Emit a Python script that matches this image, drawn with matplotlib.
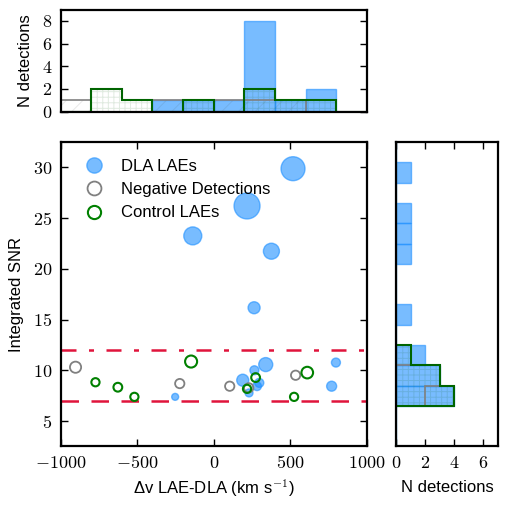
import matplotlib
matplotlib.use('Agg')
import matplotlib.pyplot as plt
import numpy as np
from matplotlib.lines import Line2D
from matplotlib.ticker import FuncFormatter

plt.rcParams['font.family'] = ['Liberation Sans', 'DejaVu Sans']
plt.rcParams['mathtext.fontset'] = 'cm'
plt.rcParams['hatch.linewidth'] = 0.7

# DLA LAEs (velocity offset, SNR, marker area)
dla_dv = [-252, -137, 189, 217, 230, 263, 265, 282, 297, 339, 376, 517, 769, 797]
dla_snr = [7.39, 23.25, 9.03, 26.2, 7.78, 16.17, 10.01, 8.44, 8.77, 10.57, 21.74, 29.87, 8.44, 10.77]
dla_size = [25, 168, 75, 350, 33, 75, 42, 40, 42, 102, 133, 298, 52, 42]

# negative detections
neg_dv = [-902, -222, 104, 228, 534]
neg_snr = [10.31, 8.70, 8.44, 8.28, 9.52]
neg_size = [65, 45, 45, 45, 45]

# control LAEs
ctrl_dv = [-772, -626, -518, -148, 217, 273, 524, 610]
ctrl_snr = [8.83, 8.34, 7.39, 10.87, 8.18, 9.29, 7.39, 9.78]
ctrl_size = [35, 40, 35, 75, 35, 40, 35, 70]

snr_cut_low = 7
snr_cut_high = 12

dv_bins = np.arange(-1000, 1001, 200)
snr_bins = np.arange(2.5, 32.6, 2)

blue = 'dodgerblue'
red = '#e0143c'
green_hatch = (0.0, 0.35, 0.0, 0.12)
gray_hatch = (0.3, 0.3, 0.3, 0.12)

fig = plt.figure(figsize=(5.09, 5.09), dpi=100)
ax = fig.add_axes([0.1189, 0.1228, 0.6022, 0.5982])
axt = fig.add_axes([0.1189, 0.7809, 0.6022, 0.2004])
axr = fig.add_axes([0.778, 0.1228, 0.2004, 0.5982])

mfmt = FuncFormatter(lambda v, p: r'$%d$' % v)

# main scatter
ax.scatter(dla_dv, dla_snr, s=dla_size, facecolor=blue, edgecolor=blue, alpha=0.6, lw=1, zorder=3)
ax.scatter(neg_dv, neg_snr, s=neg_size, facecolor='none', edgecolor='gray', lw=1.3, zorder=3)
ax.scatter(ctrl_dv, ctrl_snr, s=ctrl_size, facecolor='none', edgecolor='green', lw=1.5, zorder=4)
ax.axhline(snr_cut_high, color=red, lw=1.8, ls='-.', dashes=(6, 5, 2, 5))
ax.axhline(snr_cut_low, color=red, lw=1.8, ls='--', dashes=(7, 5))
ax.set_xlim(-1000, 1000)
ax.set_ylim(2.5, 32.5)
ax.set_xticks([-1000, -500, 0, 500, 1000])
ax.set_yticks([5, 10, 15, 20, 25, 30])
ax.xaxis.set_major_formatter(mfmt)
ax.yaxis.set_major_formatter(mfmt)
ax.set_xlabel('Δv LAE-DLA (km s$^{-1}$)', fontsize=12, labelpad=4)
ax.set_ylabel('Integrated SNR', fontsize=12, labelpad=6)

handles = [
    Line2D([], [], ls='none', marker='o', ms=11, mfc=blue, mec=blue, alpha=0.6),
    Line2D([], [], ls='none', marker='o', ms=10, mfc='none', mec='gray', mew=1.3),
    Line2D([], [], ls='none', marker='o', ms=9.5, mfc='none', mec='green', mew=1.5),
]
ax.legend(handles, ['DLA LAEs', 'Negative Detections', 'Control LAEs'], loc='upper left',
          frameon=False, fontsize=12, numpoints=1, handletextpad=0.6, labelspacing=0.5,
          borderaxespad=0.6)

# top histogram
axt.hist(dla_dv, bins=dv_bins, histtype='bar', rwidth=1, facecolor=blue, edgecolor=blue, alpha=0.6, lw=1)
axt.hist(neg_dv, bins=dv_bins, histtype='stepfilled', facecolor='none', edgecolor=gray_hatch, hatch='//', lw=0)
axt.hist(neg_dv, bins=dv_bins, histtype='step', color='gray', lw=1.2)
axt.hist(ctrl_dv, bins=dv_bins, histtype='stepfilled', facecolor='none', edgecolor=green_hatch, hatch='+++', lw=0)
axt.hist(ctrl_dv, bins=dv_bins, histtype='step', color='darkgreen', lw=1.5)
axt.set_xlim(-1000, 1000)
axt.set_ylim(0, 9)
axt.set_xticks([])
axt.set_yticks([0, 2, 4, 6, 8])
axt.yaxis.set_major_formatter(mfmt)
axt.set_ylabel('N detections', fontsize=12, labelpad=6)

# right histogram
axr.hist(dla_snr, bins=snr_bins, orientation='horizontal', histtype='bar', rwidth=1,
         facecolor=blue, edgecolor=blue, alpha=0.6, lw=1)
axr.hist(neg_snr, bins=snr_bins, orientation='horizontal', histtype='step', color='gray', lw=1.2)
axr.hist(ctrl_snr, bins=snr_bins, orientation='horizontal', histtype='stepfilled',
         facecolor='none', edgecolor=green_hatch, hatch='+++', lw=0)
axr.hist(ctrl_snr, bins=snr_bins, orientation='horizontal', histtype='step', color='darkgreen', lw=1.5)
axr.set_ylim(2.5, 32.5)
axr.set_xlim(0, 7)
axr.set_yticks([])
axr.set_xticks([0, 2, 4, 6])
axr.xaxis.set_major_formatter(mfmt)
axr.set_xlabel('N detections', fontsize=12, labelpad=6)

for a in (ax, axt, axr):
    for sp in a.spines.values():
        sp.set_linewidth(1.6)
    a.tick_params(direction='in', top=True, right=True, length=5, width=1,
                  labelsize=13, pad=6)

fig.savefig('out.png', dpi=100, facecolor='white')
